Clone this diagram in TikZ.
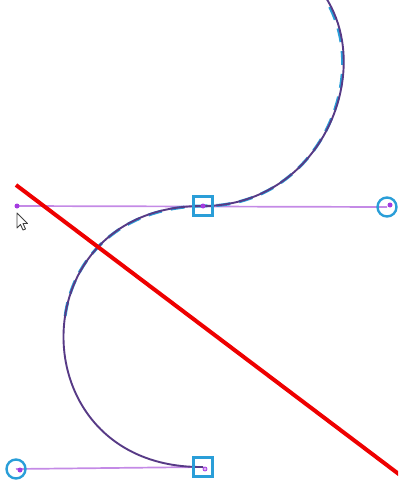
\documentclass[tikz,border=0pt]{standalone}
\definecolor{pathpurple}{HTML}{573A86}
\definecolor{handlepurple}{HTML}{C48AE6}
\definecolor{dotpurple}{HTML}{A43BE0}
\definecolor{ghostblue}{HTML}{2A9ED8}
\definecolor{redline}{HTML}{EE0000}
\tikzset{
  handleline/.style={draw=handlepurple, line width=1.7pt},
  anchorbox/.style={rectangle, draw=ghostblue, line width=2.4pt, minimum size=19pt, inner sep=0pt},
  handlering/.style={circle, draw=ghostblue, line width=2.4pt, minimum size=19pt, inner sep=0pt},
  handledot/.style={circle, fill=dotpurple, minimum size=5pt, inner sep=0pt},
  curvepath/.style={draw=pathpurple, line width=1.9pt},
  ghostpath/.style={draw=ghostblue, line width=3pt, dash pattern=on 14pt off 9pt},
  cutline/.style={draw=redline, line width=4pt},
  pointer/.style={draw=black!75, fill=white, line width=0.9pt, line join=round},
}
\begin{document}
\begin{tikzpicture}[x=1pt,y=-1pt]
\useasboundingbox (0,0) rectangle (398,486);
\clip (0,0) rectangle (398,486);
% key points (image coordinates, y downward)
\coordinate (a1) at (203,206);
\coordinate (a2) at (203,467);
\coordinate (h1) at (17,206);
\coordinate (h2) at (387,207);
\coordinate (h3) at (16,469);
\coordinate (top) at (215,-57);
\coordinate (mid) at (65,317.1);
\coordinate (r1) at (16,185);
\coordinate (r2) at (400,475);
% handle lines
\draw[handleline] (h1) -- (h2);
\draw[handleline] (h3) -- (a2);
% ghost (blue dashed) path
\begin{scope}[shift={(-1.5,1.5)}]
\draw[ghostpath] (top) .. controls (410,-50) and (365,206) .. (a1)
  .. controls (119.3,205.55) and (73.5,258.7) .. (mid);
\end{scope}
% main curve
\draw[curvepath] (top) .. controls (410,-50) and (365,206) .. (a1)
  .. controls (17,205) and (17,469) .. (a2);
% anchors and handle ends
\node[anchorbox] (sq1) at (a1) {};
\node[anchorbox] (sq2) at (a2) {};
\node[handledot] (d1) at (a1) {};
\node[circle, draw=dotpurple, fill=dotpurple!40, minimum size=4pt, inner sep=0pt, line width=0.8pt] (d2) at (205,469) {};
\node[handledot] (d3) at (h1) {};
\node[handlering] (c1) at (h2) {};
\node[handledot] (d4) at (390,205) {};
\node[handlering] (c2) at (h3) {};
\node[handledot] (d5) at (20,470) {};
% cursor
\draw[pointer, shift={(17,213)}] (0,0) -- (0,15) -- (3.5,11.5) -- (6,17) -- (8.5,16) -- (6,10.5) -- (10.5,10.5) -- cycle;
% red cut line
\draw[cutline] (r1) -- (r2);
\end{tikzpicture}
\end{document}
